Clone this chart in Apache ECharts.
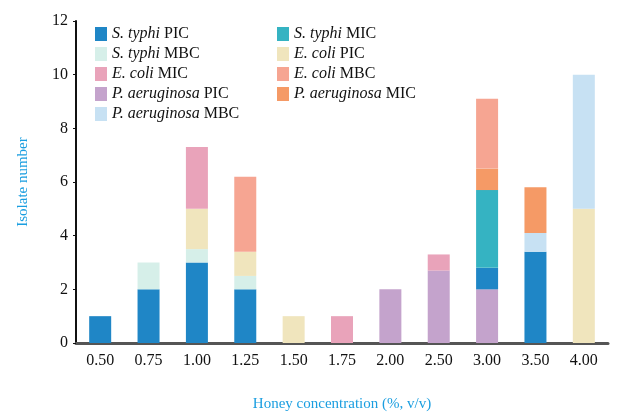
<!DOCTYPE html>
<html>
<head>
<meta charset="utf-8">
<script src="https://cdn.jsdelivr.net/npm/echarts@6/dist/echarts.min.js"></script>
<style>
  html, body { margin: 0; padding: 0; background: #fff; }
  #chart { width: 621px; height: 413px; }
</style>
</head>
<body>
<div id="chart"></div>
<script>
// 横轴：蜂蜜浓度
const concentrations = ['0.50', '0.75', '1.00', '1.25', '1.50', '1.75', '2.00', '2.50', '3.00', '3.50', '4.00'];

// 各系列数据（按堆叠顺序，从下到上）
const paPIC = [0, 0, 0, 0, 0, 0, 2, 2.7, 2, 0, 0];
const stPIC = [1, 2, 3, 2, 0, 0, 0, 0, 0.8, 3.4, 0];
const stMIC = [0, 0, 0, 0, 0, 0, 0, 0, 2.9, 0, 0];
const stMBC = [0, 1, 0.5, 0.5, 0, 0, 0, 0, 0, 0, 0];
const ecPIC = [0, 0, 1.5, 0.9, 1, 0, 0, 0, 0, 0, 5];
const paMBC = [0, 0, 0, 0, 0, 0, 0, 0, 0, 0.7, 5];
const paMIC = [0, 0, 0, 0, 0, 0, 0, 0, 0.8, 1.7, 0];
const ecMIC = [0, 0, 2.3, 0, 0, 1, 0, 0.6, 0, 0, 0];
const ecMBC = [0, 0, 0, 2.8, 0, 0, 0, 0, 2.6, 0, 0];

// 图例顺序（两列）
const legendLeft = ['S. typhi PIC', 'S. typhi MBC', 'E. coli MIC', 'P. aeruginosa PIC', 'P. aeruginosa MBC'];
const legendRight = ['S. typhi MIC', 'E. coli PIC', 'E. coli MBC', 'P. aeruginosa MIC'];

const serif = '"Liberation Serif", "DejaVu Serif", serif';

const stackSeries = [
    { name: 'P. aeruginosa PIC', data: paPIC, color: '#c4a3cc' },
    { name: 'S. typhi PIC', data: stPIC, color: '#1f86c6' },
    { name: 'S. typhi MIC', data: stMIC, color: '#35b3c2' },
    { name: 'S. typhi MBC', data: stMBC, color: '#d6efe9' },
    { name: 'E. coli PIC', data: ecPIC, color: '#f0e5bd' },
    { name: 'P. aeruginosa MBC', data: paMBC, color: '#c7e1f3' },
    { name: 'P. aeruginosa MIC', data: paMIC, color: '#f59a66' },
    { name: 'E. coli MIC', data: ecMIC, color: '#e9a3ba' },
    { name: 'E. coli MBC', data: ecMBC, color: '#f6a592' }
];

// 物种名斜体
const legendText = name => {
    const parts = name.split(' ');
    const measure = parts.pop();
    return '{i|' + parts.join(' ') + '} ' + measure;
};

const legendBase = {
    orient: 'vertical',
    top: 21,
    itemWidth: 12,
    itemHeight: 14,
    itemGap: 4,
    icon: 'rect',
    formatter: legendText,
    textStyle: {
        fontFamily: serif, fontSize: 16, color: '#111',
        rich: { i: { fontFamily: serif, fontSize: 16, fontStyle: 'italic', color: '#111' } }
    }
};

const chart = echarts.init(document.getElementById('chart'));
chart.setOption({
    animation: false,
    legend: [
        Object.assign({}, legendBase, { left: 90, data: legendLeft }),
        Object.assign({}, legendBase, { left: 272, data: legendRight })
    ],
    grid: { left: 76, right: 13, top: 21, bottom: 70, containLabel: false, outerBoundsMode: 'none' },
    xAxis: {
        type: 'category',
        data: concentrations,
        name: 'Honey concentration (%, v/v)',
        nameLocation: 'middle',
        nameGap: 54,
        nameTextStyle: { fontFamily: serif, fontSize: 15, color: '#1a9ee0' },
        axisLine: { lineStyle: { color: '#555', width: 3 } },
        axisTick: { show: false },
        axisLabel: { fontFamily: serif, fontSize: 16, color: '#111', margin: 10 }
    },
    yAxis: {
        type: 'value',
        min: 0, max: 12, interval: 2,
        name: 'Isolate number',
        nameLocation: 'middle',
        nameGap: 45,
        nameTextStyle: { fontFamily: serif, fontSize: 15, color: '#1a9ee0' },
        axisLine: { show: true, lineStyle: { color: '#111', width: 2 } },
        axisTick: { show: true, length: 3, lineStyle: { color: '#111' } },
        splitLine: { show: false },
        axisLabel: { fontFamily: serif, fontSize: 16, color: '#111', margin: 8 }
    },
    series: stackSeries.map(s => ({
        name: s.name,
        type: 'bar',
        stack: 'total',
        barWidth: 22,
        data: s.data,
        itemStyle: { color: s.color }
    }))
});
</script>
</body>
</html>
